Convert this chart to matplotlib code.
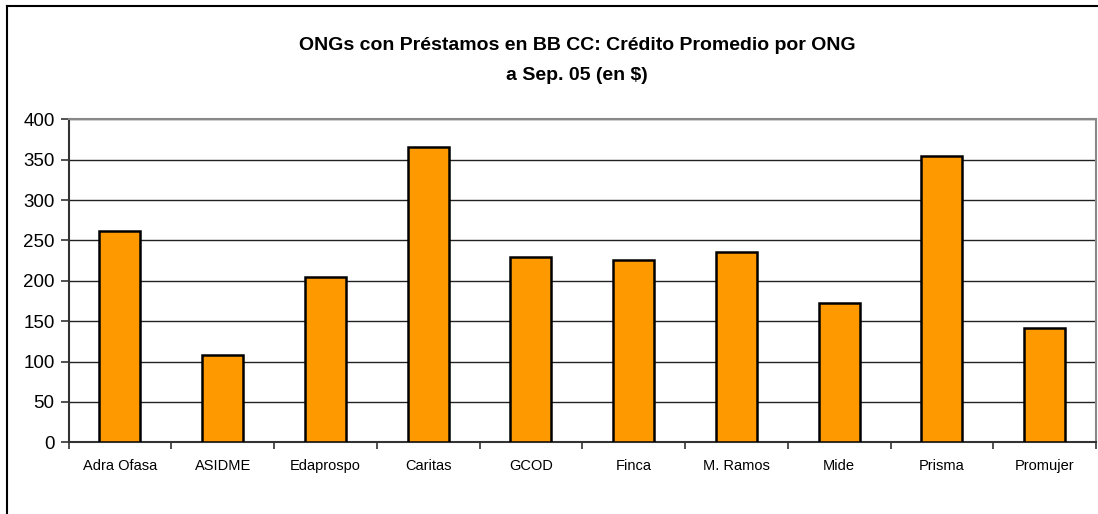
import matplotlib
matplotlib.use("Agg")
import matplotlib.pyplot as plt
import numpy as np
from matplotlib.lines import Line2D

categories = ["Adra Ofasa", "ASIDME", "Edaprospo", "Caritas", "GCOD", "Finca",
              "M. Ramos", "Mide", "Prisma", "Promujer"]
values = [262, 108, 205, 366, 229, 226, 236, 173, 355, 142]
yticks = [0, 50, 100, 150, 200, 250, 300, 350, 400]

plt.rcParams['font.family'] = ['Liberation Sans', 'DejaVu Sans']

W, H = 1098, 514
fig = plt.figure(figsize=(W / 100, H / 100), dpi=100)
ax = fig.add_axes([68.5 / W, (H - 442.3) / H, (1096 - 68.5) / W, (442.3 - 119.3) / H])

x = np.arange(len(categories))
ax.bar(x, values, width=0.4, color="#FF9900", edgecolor="black", linewidth=1.8, zorder=3)

ax.set_xlim(-0.5, len(categories) - 0.5)
ax.set_ylim(0, 400)
ax.set_yticks(yticks)
ax.set_yticklabels([str(v) for v in yticks], fontsize=13.5)
ax.yaxis.grid(True, color="#222222", linewidth=1.0, zorder=0)
ax.set_axisbelow(True)

ax.set_xticks(x)
ax.set_xticklabels(categories, fontsize=10.5)
ax.tick_params(axis='x', which='major', length=0, pad=12)
ax.set_xticks(np.arange(-0.5, len(categories) + 0.5, 1), minor=True)
ax.tick_params(axis='x', which='minor', length=5, width=1.2, direction='out', color="#333333")
ax.tick_params(axis='y', length=6, width=1.2, direction='out', pad=4, color="#333333")

for s in ['left', 'bottom']:
    ax.spines[s].set_color("#333333")
    ax.spines[s].set_linewidth(1.5)
for s in ['top', 'right']:
    ax.spines[s].set_color("#888888")
    ax.spines[s].set_linewidth(1.5)

fig.text(577 / W, 1 - 46 / H, "ONGs con Préstamos en BB CC: Crédito Promedio por ONG",
         ha='center', va='center', fontsize=14, fontweight='bold')
fig.text(577 / W, 1 - 75 / H, "a Sep. 05 (en $)",
         ha='center', va='center', fontsize=14, fontweight='bold')

# outer chart frame
fig.add_artist(Line2D([7 / W, 7 / W], [1 - 6 / H, 0], color="black", linewidth=1.5,
                      transform=fig.transFigure))
fig.add_artist(Line2D([7 / W, 1], [1 - 6 / H, 1 - 6 / H], color="black", linewidth=1.5,
                      transform=fig.transFigure))

fig.savefig("out.png", dpi=100)
